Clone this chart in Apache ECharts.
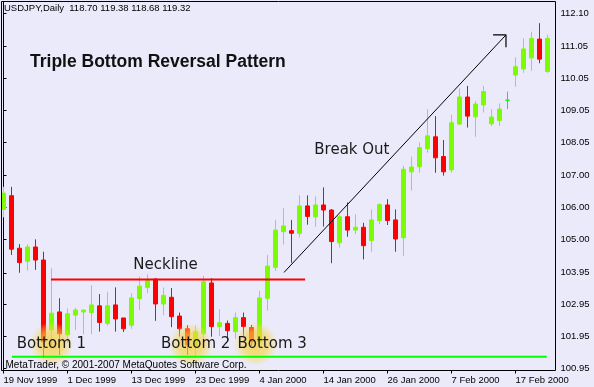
<!DOCTYPE html>
<html>
<head>
<meta charset="utf-8">
<script src="https://cdn.jsdelivr.net/npm/echarts@6/dist/echarts.min.js"></script>
<style>
html,body{margin:0;padding:0;background:#eaeafa;}
#chart{width:594px;height:387px;}
</style>
</head>
<body>
<div id="chart"></div>
<script>
// ---- Data ----
const dates = ['19 Nov 1999','22 Nov 1999','23 Nov 1999','24 Nov 1999','25 Nov 1999','26 Nov 1999','29 Nov 1999','30 Nov 1999',
 '1 Dec 1999','2 Dec 1999','3 Dec 1999','6 Dec 1999','7 Dec 1999','8 Dec 1999','9 Dec 1999','10 Dec 1999',
 '13 Dec 1999','14 Dec 1999','15 Dec 1999','16 Dec 1999','17 Dec 1999','20 Dec 1999','21 Dec 1999','22 Dec 1999',
 '23 Dec 1999','24 Dec 1999','27 Dec 1999','28 Dec 1999','29 Dec 1999','30 Dec 1999','31 Dec 1999','3 Jan 2000',
 '4 Jan 2000','5 Jan 2000','6 Jan 2000','7 Jan 2000','10 Jan 2000','11 Jan 2000','12 Jan 2000','13 Jan 2000',
 '14 Jan 2000','17 Jan 2000','18 Jan 2000','19 Jan 2000','20 Jan 2000','21 Jan 2000','24 Jan 2000','25 Jan 2000',
 '26 Jan 2000','27 Jan 2000','28 Jan 2000','31 Jan 2000','1 Feb 2000','2 Feb 2000','3 Feb 2000','4 Feb 2000',
 '7 Feb 2000','8 Feb 2000','9 Feb 2000','10 Feb 2000','11 Feb 2000','14 Feb 2000','15 Feb 2000','16 Feb 2000',
 '17 Feb 2000','18 Feb 2000','21 Feb 2000','22 Feb 2000','23 Feb 2000'];

const opens = [105.94,106.37,104.72,104.31,104.76,104.35,102.15,102.72,
 102.00,102.62,102.72,102.70,102.91,102.36,102.94,102.53,
 102.30,103.14,103.49,103.75,102.97,103.18,102.59,102.19,
 101.62,102.03,103.63,102.26,102.36,102.10,102.54,102.23,
 101.78,103.15,104.12,105.24,105.27,105.19,106.05,105.71,
 106.08,105.92,104.89,105.71,105.29,105.38,104.96,105.59,
 106.08,105.61,105.05,107.12,107.28,107.85,108.22,107.60,
 107.18,108.62,109.47,108.85,109.22,108.63,108.73,109.37,
 110.16,110.35,110.70,111.29,110.27];
const closes = [106.45,104.69,104.27,104.76,104.35,101.78,102.68,102.03,
 102.66,102.78,102.78,102.94,102.39,102.91,102.50,102.19,
 103.16,103.53,103.70,102.97,103.24,102.57,102.19,101.68,
 102.10,103.67,102.26,102.38,102.13,102.54,102.26,101.78,
 103.16,104.16,105.29,105.42,105.19,106.05,105.72,106.08,
 105.92,104.93,105.71,105.29,105.38,104.80,105.61,106.09,
 105.59,105.01,107.20,107.27,107.88,108.25,107.56,107.12,
 108.66,109.47,108.87,109.25,109.64,108.84,109.09,109.37,
 110.42,110.98,111.31,110.66,111.31];
const lows = [105.69,104.51,103.95,104.02,104.04,101.27,101.62,101.37,
 101.74,102.15,102.02,102.02,102.10,102.29,102.10,102.09,
 102.19,102.78,103.31,102.44,102.62,102.24,101.94,101.37,
 101.30,101.84,101.94,101.96,101.84,101.87,101.94,101.65,
 101.62,102.76,104.01,104.84,104.26,105.06,105.46,105.39,
 105.40,104.25,104.74,105.08,105.16,104.37,104.61,105.48,
 105.45,104.61,104.48,106.53,107.09,107.72,107.09,107.00,
 107.09,108.59,108.51,108.22,108.98,108.56,108.56,109.09,
 109.79,110.23,110.29,110.53,110.23];
const highs = [106.65,106.65,104.85,104.85,105.00,104.61,104.09,103.15,
 102.83,102.85,102.78,103.56,103.28,103.35,103.49,102.53,
 103.31,103.83,103.90,103.78,103.49,103.47,102.70,102.30,
 102.29,103.85,103.78,102.81,102.45,102.70,102.70,102.31,
 103.38,104.51,105.61,105.98,105.61,106.39,106.38,106.35,
 106.63,105.95,105.76,106.16,105.79,105.52,105.94,106.13,
 106.26,105.94,107.31,107.60,108.04,109.09,108.87,108.12,
 108.91,109.74,109.82,109.34,109.82,109.09,109.27,109.64,
 110.72,111.31,111.52,111.79,111.43];

const yTickLabels = ['100.95','101.95','102.95','103.95','105.00','106.00','107.00','108.05','109.05','110.05','111.05','112.10'];

// annotation geometry in data space: [bar index, price]
const necklineLine = [[5.94, 103.74], [37.7, 103.74]];
const supportLine = [[1.06, 101.31], [67.9, 101.31]];
const breakoutLine = [[35.06, 103.96], [62.81, 111.42]];
const arrowHead = [[61.2, 111.42], [62.81, 111.42], [62.81, 111.03]];
const bottomGlows = [[6.0, 101.71], [23.4, 101.68], [31.5, 101.72]];

const headerText = 'USDJPY,Daily  118.70 119.38 118.68 119.32';
const titleText = 'Triple Bottom Reversal Pattern';
const copyrightText = 'MetaTrader, \u00a9 2001-2007 MetaQuotes Software Corp.';

// ---- Chart ----
const GREEN = '#7cfc00', RED = '#ff0000', DOJI = '#00ff00';
const yTickValues = yTickLabels.map(Number);
const candleData = dates.map((d, i) => {
  const v = [opens[i], closes[i], lows[i], highs[i]];
  if (opens[i] === closes[i]) {
    return { value: v, itemStyle: { color: DOJI, color0: DOJI, borderColor: DOJI, borderColor0: DOJI, borderColorDoji: DOJI } };
  }
  return v;
});

const chart = echarts.init(document.getElementById('chart'), null, { renderer: 'canvas' });
const axisFont = { fontFamily: 'Liberation Sans', fontSize: 9.5, color: '#000' };
const annFont = '15px "DejaVu Sans"';

const glowColor = {
  type: 'radial', x: 0.5, y: 0.5, r: 0.5,
  colorStops: [
    { offset: 0, color: 'rgba(248,206,50,1)' },
    { offset: 0.55, color: 'rgba(248,212,70,0.85)' },
    { offset: 0.8, color: 'rgba(248,218,90,0.45)' },
    { offset: 1, color: 'rgba(248,222,110,0)' }
  ]
};

chart.setOption({
  backgroundColor: '#eaeafa',
  animation: false,
  grid: { left: 3.5, right: 46.5, top: 1.5, bottom: 16.5, containLabel: false },
  xAxis: [{
    type: 'category', data: dates, boundaryGap: false,
    axisLine: { show: false },
    axisTick: { show: true, interval: 7, length: 3, lineStyle: { color: '#000' } },
    axisLabel: Object.assign({ interval: 7, align: 'left', margin: 5 }, axisFont),
    splitLine: { show: false }
  }, {
    type: 'value', min: 0, max: 68, show: false
  }],
  yAxis: {
    type: 'value', position: 'right', offset: 8, min: 100.88, max: 112.47,
    axisLine: { show: true, lineStyle: { color: '#000' } },
    axisTick: { show: true, length: 3, customValues: yTickValues, lineStyle: { color: '#000' } },
    axisLabel: Object.assign({ customValues: yTickValues, margin: 5, formatter: v => v.toFixed(2) }, axisFont),
    splitLine: { show: false }
  },
  series: [{
    type: 'candlestick', data: candleData, barWidth: 4, z: 2,
    itemStyle: { color: GREEN, color0: RED, borderColor: GREEN, borderColor0: RED, borderWidth: 1 }
  }, {
    type: 'scatter', xAxisIndex: 1, data: bottomGlows, symbol: 'circle', symbolSize: 44, z: 3,
    itemStyle: { color: glowColor, opacity: 0.75 }, silent: true
  }, {
    type: 'line', xAxisIndex: 1, data: necklineLine, symbol: 'none', z: 4,
    lineStyle: { color: RED, width: 2 }
  }, {
    type: 'line', xAxisIndex: 1, data: supportLine, symbol: 'none', z: 4,
    lineStyle: { color: DOJI, width: 2 }
  }, {
    type: 'line', xAxisIndex: 1, data: breakoutLine, symbol: 'none', z: 4,
    lineStyle: { color: '#000', width: 1 }
  }, {
    type: 'line', xAxisIndex: 1, data: arrowHead, symbol: 'none', z: 4,
    lineStyle: { color: '#000', width: 1.2 }
  }],
  graphic: [
    { type: 'rect', z: 50, silent: true, shape: { x: 1.5, y: 1.5, width: 554, height: 369 }, style: { fill: 'none', stroke: '#000', lineWidth: 1 } },
    { type: 'text', z: 60, x: 4, y: 8, style: { text: headerText, font: '9.5px "Liberation Sans"', fill: '#000', verticalAlign: 'middle', textVerticalAlign: 'middle' } },
    { type: 'text', z: 60, x: 30, y: 62, style: { text: titleText, font: 'bold 17.5px "Liberation Sans"', fill: '#111', verticalAlign: 'middle', textVerticalAlign: 'middle' } },
    { type: 'text', z: 60, x: 133.3, y: 264.7, style: { text: 'Neckline', font: annFont, fill: '#1a1a1a', verticalAlign: 'middle', textVerticalAlign: 'middle' } },
    { type: 'text', z: 60, x: 314.3, y: 150.5, style: { text: 'Break Out', font: annFont, fill: '#1a1a1a', verticalAlign: 'middle', textVerticalAlign: 'middle' } },
    { type: 'text', z: 60, x: 16.7, y: 344.5, style: { text: 'Bottom 1', font: annFont, fill: '#1a1a1a', verticalAlign: 'middle', textVerticalAlign: 'middle' } },
    { type: 'text', z: 60, x: 161, y: 344.5, style: { text: 'Bottom 2', font: annFont, fill: '#1a1a1a', verticalAlign: 'middle', textVerticalAlign: 'middle' } },
    { type: 'text', z: 60, x: 237.5, y: 344.5, style: { text: 'Bottom 3', font: annFont, fill: '#1a1a1a', verticalAlign: 'middle', textVerticalAlign: 'middle' } },
    { type: 'text', z: 60, x: 5.5, y: 365, style: { text: copyrightText, font: '10px "Liberation Sans"', fill: '#000', verticalAlign: 'middle', textVerticalAlign: 'middle' } }
  ]
});
</script>
</body>
</html>
